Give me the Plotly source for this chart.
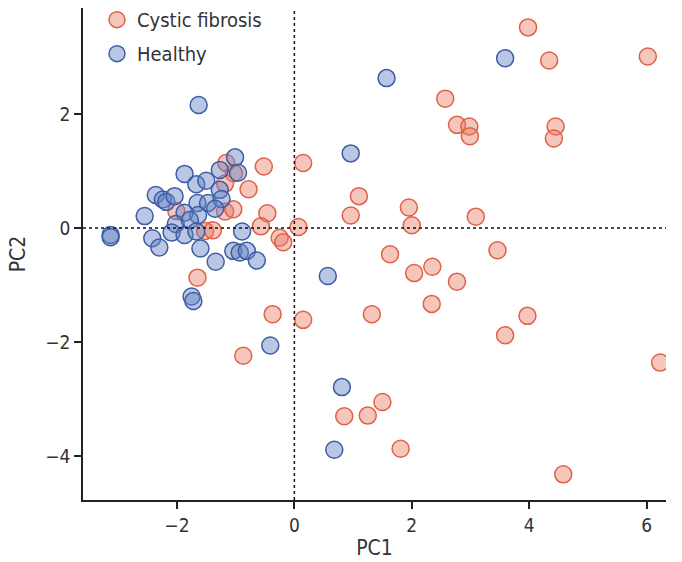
import plotly.graph_objects as go

# Cystic fibrosis (PC1, PC2)
cf_pc1 = [3.98, 4.34, 6.02, 2.57, 2.77, 2.98, 2.99, 4.45, 4.42, 1.10, 0.96, 1.95, 2.00, 3.09,
          1.63, 3.46, 2.04, 2.35, 2.77, 2.34, -0.37, 0.15, 1.32, 3.97, 3.59, -0.87, 6.23,
          1.50, 0.85, 1.25, 1.81, 4.58, 0.15,
          -1.16, -1.03, -0.52, -1.18, -0.78, -2.01, -1.18, -1.04, -0.46, -0.57, -1.52, -1.39,
          -0.25, -0.19, 0.07, -1.65]
cf_pc2 = [3.52, 2.94, 3.01, 2.27, 1.81, 1.78, 1.61, 1.78, 1.57, 0.56, 0.22, 0.36, 0.05, 0.20,
          -0.46, -0.39, -0.79, -0.68, -0.94, -1.33, -1.51, -1.61, -1.51, -1.54, -1.88, -2.24, -2.36,
          -3.05, -3.30, -3.29, -3.87, -4.32, 1.14,
          1.14, 0.96, 1.08, 0.78, 0.68, 0.30, 0.29, 0.33, 0.26, 0.03, -0.05, -0.04,
          -0.17, -0.25, 0.02, -0.87]

# Healthy (PC1, PC2)
h_pc1 = [-1.01, -1.27, -0.96, -1.87, -1.67, -1.50, -1.27, -2.36, -2.24, -2.18, -2.04, -2.55,
         -1.65, -1.47, -1.24, -1.64, -1.35, -1.87, -2.02, -1.78, -2.09, -1.87, -1.67, -3.13,
         -3.13, -2.42, -2.30, -0.89, -1.60, -1.04, -0.93, -0.81, -0.64, -1.34, -1.75, -1.72,
         -1.63, 1.57, 3.59, 0.96, 0.57, -0.41, 0.81, 0.68]
h_pc2 = [1.24, 1.02, 0.97, 0.95, 0.77, 0.83, 0.67, 0.58, 0.50, 0.46, 0.56, 0.21,
         0.44, 0.44, 0.51, 0.23, 0.34, 0.27, 0.07, 0.14, -0.08, -0.12, -0.06, -0.12,
         -0.16, -0.18, -0.34, -0.06, -0.36, -0.40, -0.43, -0.40, -0.57, -0.59, -1.20, -1.28,
         2.16, 2.63, 2.98, 1.31, -0.84, -2.06, -2.79, -3.89]

x_ticks = [-2, 0, 2, 4, 6]
y_ticks = [-4, -2, 0, 2]

FONT = "DejaVu Sans Condensed, Roboto, sans-serif"
TXT = "#333333"

fig = go.Figure()
fig.add_trace(go.Scatter(
    x=cf_pc1, y=cf_pc2, mode="markers", name="Cystic fibrosis", legendgroup="cf",
    marker=dict(size=17, color="rgba(232,120,95,0.42)",
                line=dict(color="rgb(224,96,72)", width=1.5)),
))
fig.add_trace(go.Scatter(
    x=h_pc1, y=h_pc2, mode="markers", name="Healthy", legendgroup="h",
    marker=dict(size=17, color="rgba(100,130,195,0.45)",
                line=dict(color="rgb(62,92,165)", width=1.5)),
))

fig.add_shape(type="line", xref="x", yref="paper", x0=0, x1=0, y0=0, y1=1,
              line=dict(color="#111111", width=1.5, dash="3px,3px"), layer="above")
fig.add_shape(type="line", xref="paper", yref="y", x0=0, x1=1, y0=0, y1=0,
              line=dict(color="#111111", width=1.5, dash="3px,3px"), layer="above")

axis_common = dict(showgrid=False, zeroline=False, showline=True, linecolor="#222222",
                   linewidth=1.5, ticks="outside", ticklen=7, tickwidth=1.5,
                   tickcolor="#222222", automargin=False,
                   tickfont=dict(family=FONT, size=19, color=TXT),
                   title_font=dict(family=FONT, size=21, color=TXT))

fig.update_xaxes(range=[-3.60, 6.33], tickvals=x_ticks, title_text="PC1",
                 title_standoff=6, **axis_common)
fig.update_yaxes(range=[-4.77, 3.86], tickvals=y_ticks, title_text="PC2",
                 title_standoff=14, **axis_common)

fig.update_layout(
    width=682, height=562,
    margin=dict(l=83, r=16, t=8, b=62, autoexpand=False),
    plot_bgcolor="white", paper_bgcolor="white",
    font=dict(family=FONT, size=20, color=TXT),
    legend=dict(x=0.024, y=1.016, xanchor="left", yanchor="top",
                bgcolor="rgba(0,0,0,0)", traceorder="grouped", tracegroupgap=5,
                font=dict(family=FONT, size=20, color=TXT), itemsizing="trace"),
    showlegend=True,
)

fig.write_html("out.html", config={"displayModeBar": False},
               post_script="document.body.style.margin='0';document.body.style.padding='0';")
